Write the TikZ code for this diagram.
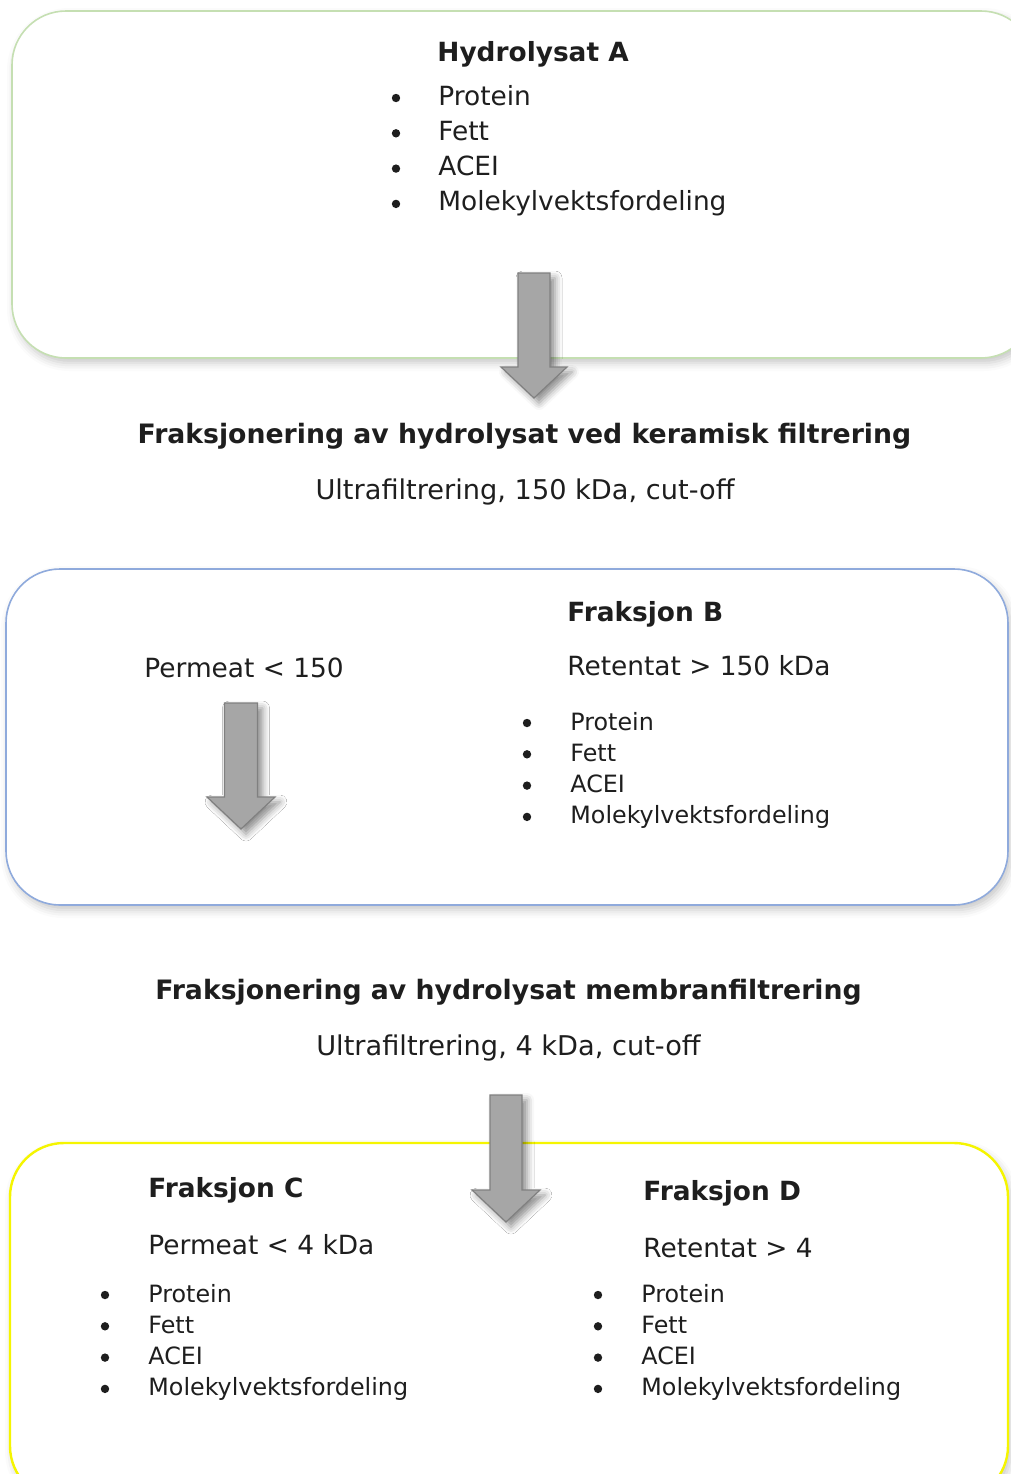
\documentclass[tikz,border=0pt]{standalone}
\usepackage{fontspec}
\setmainfont{DejaVu Sans}
\usetikzlibrary{shadows.blur}

\definecolor{greenline}{HTML}{C5DFB2}
\definecolor{blueline}{HTML}{8FAADC}
\definecolor{yellowline}{HTML}{F5F500}
\definecolor{arrowfill}{HTML}{A6A6A6}
\definecolor{arrowedge}{HTML}{808080}
\definecolor{ink}{HTML}{1E1E1E}

\tikzset{
  panel/.style={rounded corners=27pt, fill=white, line width=0.8pt,
    blur shadow={shadow xshift=1.5pt, shadow yshift=-2.5pt,
                 shadow blur radius=4pt, shadow opacity=22}},
  txt/.style={anchor=base west, inner sep=0pt, text=ink,
    font=\fontsize{13.2}{16}\selectfont},
  small/.style={txt, font=\fontsize{11.9}{14}\selectfont},
  ctxt/.style={txt, anchor=base, font=\fontsize{13.6}{16}\selectfont},
  head/.style={txt, font=\fontsize{13.2}{16}\selectfont\bfseries},
  chead/.style={head, anchor=base, font=\fontsize{13.35}{16}\selectfont\bfseries},
  dot/.style={circle, fill=ink, inner sep=0pt, minimum size=4.2pt},
  bigarrow/.style={fill=arrowfill, draw=arrowedge, line width=0.6pt,
    line join=miter,
    blur shadow={shadow xshift=2.5pt, shadow yshift=-2.5pt,
                 shadow blur radius=3.5pt, shadow opacity=45}}
}

% bulleted list of the four measured quantities
% #1 prefix, #2 bullet x, #3 text x, #4 first baseline, #5 line step, #6 text style
\newcommand\measurelist[6]{%
  \foreach \t [count=\i from 0] in {Protein,Fett,ACEI,Molekylvektsfordeling}{%
    \node[dot] (#1b\i) at (#2,#4+\i*#5-7) {};
    \node[#6] (#1t\i) at (#3,#4+\i*#5) {\t};
  }}

% block arrow: #1 centre x, #2 top, #3 neck, #4 tip, #5 half shaft, #6 half head
\newcommand\blockarrow[6]{%
  \draw[bigarrow] (#1-#5,#2) -- (#1+#5,#2) -- (#1+#5,#3) -- (#1+#6,#3)
    -- (#1,#4) -- (#1-#6,#3) -- (#1-#5,#3) -- cycle;}

\begin{document}
\begin{tikzpicture}[x=0.5pt,y=-0.5pt]
  \useasboundingbox (0,0) rectangle (1011,1474);
  \clip (0,0) rectangle (1011,1474);

  % panels
  \draw[panel, draw=greenline] (12,11) rectangle (1035,358);
  \draw[panel, draw=blueline] (6,569) rectangle (1008,905);
  \draw[panel, draw=yellowline, line width=1.2pt] (10,1143) rectangle (1008,1500);

  % Hydrolysat A
  \node[head] (hA) at (437,61) {Hydrolysat A};
  \measurelist{A}{396}{438}{105}{35.3}{txt}

  % first fractionation step
  \node[chead] (f1) at (524.5,443) {Fraksjonering av hydrolysat ved keramisk filtrering};
  \node[ctxt] (u1) at (525,499) {Ultrafiltrering, 150 kDa, cut-off};

  % Fraksjon B
  \node[txt] (p150) at (144,677) {Permeat < 150};
  \node[head] (hB) at (567,621) {Fraksjon B};
  \node[txt] (r150) at (567,675) {Retentat > 150 kDa};
  \measurelist{B}{527}{570}{730}{31.3}{small}

  % second fractionation step
  \node[chead] (f2) at (508.5,999) {Fraksjonering av hydrolysat membranfiltrering};
  \node[ctxt] (u2) at (508.5,1055) {Ultrafiltrering, 4 kDa, cut-off};

  % Fraksjon C
  \node[head] (hC) at (148,1197) {Fraksjon C};
  \node[txt] (p4) at (148,1254) {Permeat < 4 kDa};
  \measurelist{C}{105}{148}{1302}{31.3}{small}

  % Fraksjon D
  \node[head] (hD) at (643,1200) {Fraksjon D};
  \node[txt] (r4) at (643,1257) {Retentat > 4};
  \measurelist{D}{598}{641}{1302}{31.3}{small}

  % block arrows
  \blockarrow{534}{273}{367}{398}{16}{33}
  \blockarrow{241}{703}{797}{829}{16.5}{34}
  \blockarrow{506}{1095}{1190}{1222}{16}{34}
\end{tikzpicture}
\end{document}
